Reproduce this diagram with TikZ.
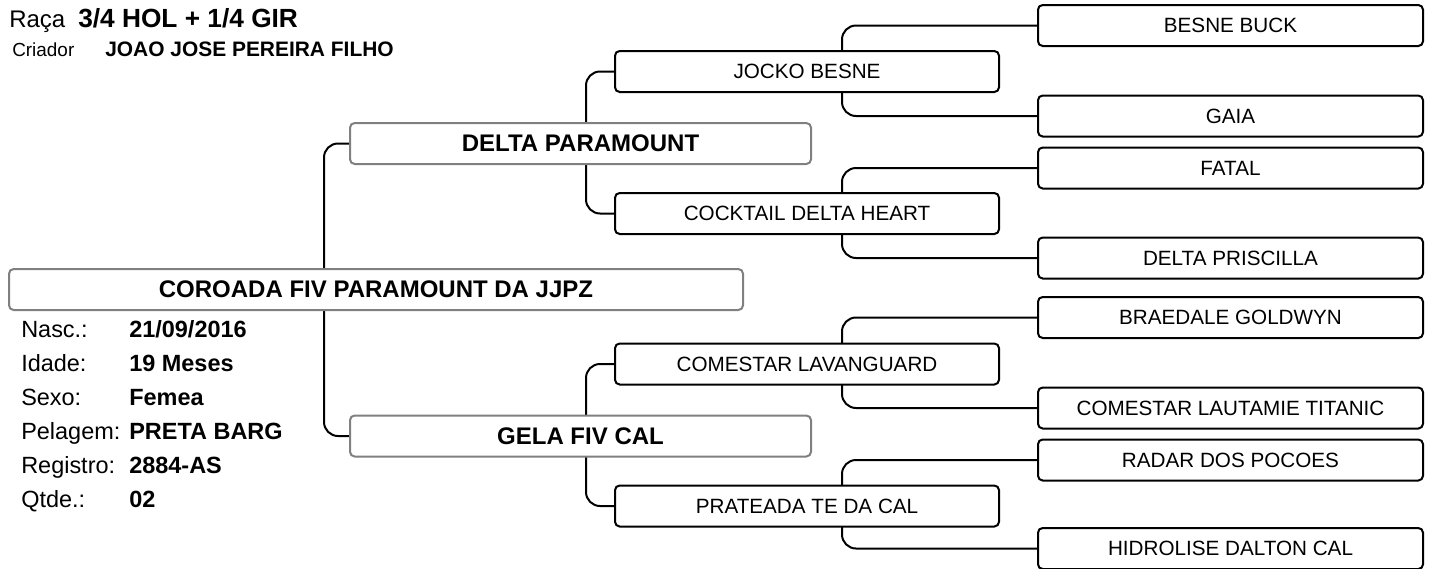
\documentclass[tikz,border=0pt]{standalone}
\usepackage{fontspec}
\setmainfont{Liberation Sans}
\usetikzlibrary{backgrounds}
\begin{document}
\begin{tikzpicture}[x=0.75pt,y=-0.75pt,
  box/.style={draw=black, line width=1.5pt, rounded corners=3.5pt, fill=white, inner sep=0pt, minimum height=30.75pt, font=\fontsize{15.5}{18}\selectfont},
  gthree/.style={box, minimum width=288.75pt},
  gtwo/.style={box, minimum width=288pt},
  gone/.style={box, draw=black!50, minimum width=345.75pt, font=\fontsize{18}{21}\selectfont\bfseries},
  gzero/.style={gone, minimum width=550.5pt},
  conn/.style={line width=1.5pt, rounded corners=10.5pt},
  lab/.style={anchor=base west, inner sep=0pt, font=\fontsize{17.6}{20}\selectfont},
  val/.style={anchor=base west, inner sep=0pt, font=\fontsize{17.6}{20}\selectfont\bfseries}]
\useasboundingbox (0,0) rectangle (1431,568);

% header
\node[anchor=base west, inner sep=0pt, font=\fontsize{18}{20}\selectfont] (raca) at (9,27) {Raça};
\node[anchor=base west, inner sep=0pt, font=\fontsize{19.7}{22}\selectfont\bfseries] (racav) at (78,27) {3/4 HOL + 1/4 GIR};
\node[anchor=base west, inner sep=0pt, font=\fontsize{14.2}{16}\selectfont] (criador) at (12,56) {Criador};
\node[anchor=base west, inner sep=0pt, font=\fontsize{15.7}{18}\selectfont\bfseries] (criadorv) at (105,56) {JOAO JOSE PEREIRA FILHO};

% info
\node[lab] (l1) at (21,337) {Nasc.:};
\node[val] (v1) at (129,337) {21/09/2016};
\node[lab] (l2) at (21,371) {Idade:};
\node[val] (v2) at (129,371) {19 Meses};
\node[lab] (l3) at (21,405) {Sexo:};
\node[val] (v3) at (129,405) {Femea};
\node[lab] (l4) at (21,439) {Pelagem:};
\node[val] (v4) at (129,439) {PRETA BARG};
\node[lab] (l5) at (21,473) {Registro:};
\node[val] (v5) at (129,473) {2884-AS};
\node[lab] (l6) at (21,507) {Qtde.:};
\node[val] (v6) at (129,507) {02};

% pedigree boxes
\node[gzero] (s) at (376,289.5) {COROADA FIV PARAMOUNT DA JJPZ};
\node[gone] (p) at (580.5,143.5) {DELTA PARAMOUNT};
\node[gone] (m) at (580.5,436) {GELA FIV CAL};
\node[gtwo] (pp) at (807,71.5) {JOCKO BESNE};
\node[gtwo] (pm) at (807,213.5) {COCKTAIL DELTA HEART};
\node[gtwo] (mp) at (807,364) {COMESTAR LAVANGUARD};
\node[gtwo] (mm) at (807,506) {PRATEADA TE DA CAL};
\node[gthree] (ppp) at (1230.5,25.5) {BESNE BUCK};
\node[gthree] (ppm) at (1230.5,116) {GAIA};
\node[gthree] (pmp) at (1230.5,168) {FATAL};
\node[gthree] (pmm) at (1230.5,258) {DELTA PRISCILLA};
\node[gthree] (mpp) at (1230.5,317.5) {BRAEDALE GOLDWYN};
\node[gthree] (mpm) at (1230.5,408) {COMESTAR LAUTAMIE TITANIC};
\node[gthree] (mmp) at (1230.5,460) {RADAR DOS POCOES};
\node[gthree] (mmm) at (1230.5,548.5) {HIDROLISE DALTON CAL};

\coordinate (c0) at (324,0);
\coordinate (c1) at (586,0);
\coordinate (c2) at (842,0);

\begin{scope}[on background layer]
\draw[conn] (p.west) -| (c0 |- m.west) -- (m.west);
\draw[conn] (pp.west) -| (c1 |- pm.west) -- (pm.west);
\draw[conn] (mp.west) -| (c1 |- mm.west) -- (mm.west);
\draw[conn] (ppp.west) -| (c2 |- ppm.west) -- (ppm.west);
\draw[conn] (pmp.west) -| (c2 |- pmm.west) -- (pmm.west);
\draw[conn] (mpp.west) -| (c2 |- mpm.west) -- (mpm.west);
\draw[conn] (mmp.west) -| (c2 |- mmm.west) -- (mmm.west);
\end{scope}
\end{tikzpicture}
\end{document}
